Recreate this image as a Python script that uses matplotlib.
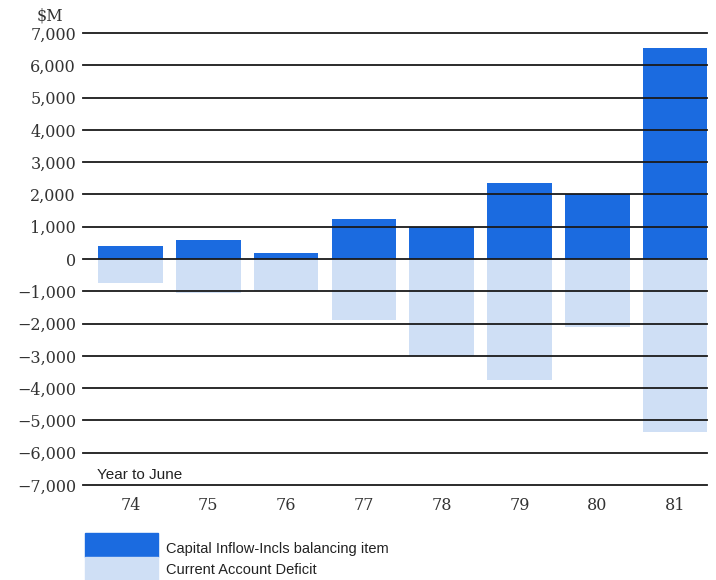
import numpy as np
import matplotlib.pyplot as plt
from matplotlib.patches import Rectangle

YEARS = ['74', '75', '76', '77', '78', '79', '80', '81']
CAPITAL_INFLOW = [400, 600, 200, 1250, 1000, 2350, 2000, 6550]
CURRENT_DEFICIT = [-750, -1050, -1000, -1900, -3000, -3750, -2100, -5350]
Y_TICKS = list(range(-7000, 8000, 1000))

DARK = '#1b6be0'
LIGHT = '#cfdff5'
SERIF = 'DejaVu Serif'
SANS = 'Liberation Sans'

fig = plt.figure(figsize=(7.16, 5.80), dpi=100)
ax = fig.add_axes([83 / 716, 1 - 485 / 580, 624 / 716, 452 / 580])

x = np.arange(len(YEARS))
ax.bar(x, CURRENT_DEFICIT, width=0.83, color=LIGHT, zorder=1)
ax.bar(x, CAPITAL_INFLOW, width=0.83, color=DARK, zorder=1)

# horizontal rules drawn over the bars
for v in Y_TICKS:
    ax.axhline(v, color='#1a1a1a', lw=1.3, zorder=3, clip_on=False)

ax.set_xlim(-0.61, 7.41)
ax.set_ylim(-7000, 7000)
ax.set_yticks(Y_TICKS)
ax.set_yticklabels([f'{v:,}'.replace('-', '\u2212') for v in Y_TICKS],
                   family=SERIF, fontsize=11.5, color='#333333')
ax.set_xticks(x)
ax.set_xticklabels(YEARS, family=SERIF, fontsize=11.5, color='#333333')
ax.tick_params(axis='y', length=0, pad=5)
ax.tick_params(axis='x', length=0, pad=9)
for s in ax.spines.values():
    s.set_visible(False)

fig.text(37 / 716, 1 - 16 / 580, '$M', family=SERIF, fontsize=11.5,
         color='#333333', va='center')
ax.text(-0.43, -6900, 'Year to June', family=SANS, fontsize=11,
        color='#222222', va='bottom')

# legend swatches and labels
fig.patches.append(Rectangle((85 / 716, 1 - 557 / 580), 73 / 716, 24 / 580,
                             transform=fig.transFigure, color=DARK))
fig.patches.append(Rectangle((85 / 716, 0), 73 / 716, 23 / 580,
                             transform=fig.transFigure, color=LIGHT))
fig.text(166 / 716, 1 - 549 / 580, 'Capital Inflow-Incls balancing item',
         family=SANS, fontsize=10.5, color='#222222', va='center')
fig.text(166 / 716, 1 - 570 / 580, 'Current Account Deficit',
         family=SANS, fontsize=10.5, color='#222222', va='center')

fig.savefig('out.png', dpi=100)
